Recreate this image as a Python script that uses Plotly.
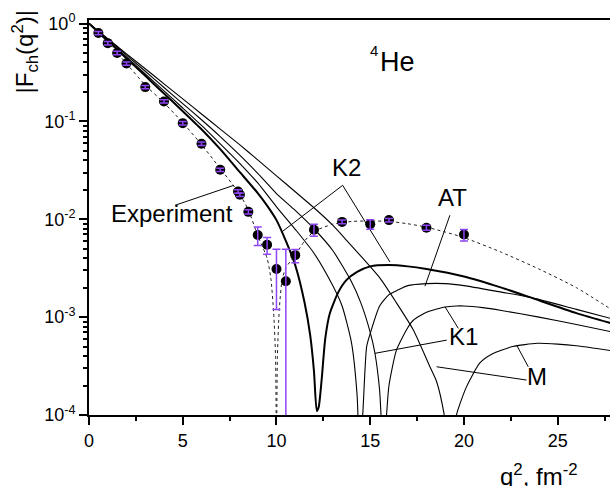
import plotly.graph_objects as go

# ---------------- data ----------------
exp_x = [0.5, 1, 1.5, 2, 3, 4, 5, 6, 7, 7.95, 8.05, 8.5, 9, 9.5, 10, 10.5, 11, 12, 13.5, 15, 16, 18, 20]
exp_y = [0.80, 0.63, 0.50, 0.39, 0.224, 0.16, 0.096, 0.059, 0.032, 0.0192, 0.0178, 0.0119,
         0.0069, 0.0055, 0.0031, 0.00233, 0.0043, 0.0078, 0.0094, 0.0089, 0.0098, 0.0082, 0.0070]
err_plus = [0.03, 0.025, 0.02, 0.015, 0.009, 0.006, 0.004, 0.0024, 0.0013, 0.0008, 0.0007, 0.0006,
            0.00144, 0.0010, 0.00184, 0.0026, 0.0006, 0.0011, 0.0004, 0.0010, 0.0004, 0.0005, 0.00085]
err_minus = [0.03, 0.025, 0.02, 0.015, 0.009, 0.006, 0.004, 0.0024, 0.0013, 0.0008, 0.0007, 0.0006,
             0.0015, 0.0011, 0.0019, 0.0023299, 0.0007, 0.0011, 0.0004, 0.0010, 0.0004, 0.0005, 0.0010]

fit_x = [0, 0.5, 1, 1.5, 2, 3, 4, 5, 6, 7, 8, 8.5, 9, 9.5, 9.7, 9.85, 9.95, 10.0, 10.05, 10.15,
         10.3, 10.5, 11, 11.5, 12, 13, 14, 15, 16, 17, 18, 19, 20, 22, 24, 26, 28]
fit_y = [1.0, 0.80, 0.635, 0.50, 0.39, 0.235, 0.155, 0.097, 0.058, 0.033, 0.0185, 0.0125, 0.0068,
         0.0040, 0.0025, 0.0011, 0.0004, 0.00005, 0.0004, 0.0012, 0.0024, 0.0032, 0.0043, 0.006,
         0.0075, 0.0089, 0.0095, 0.0096, 0.0095, 0.0090, 0.0083, 0.0074, 0.0065, 0.0046, 0.0031,
         0.0020, 0.00115]

k2_x = [0, 1, 2, 3, 4, 5, 6, 7, 8, 9, 9.5, 10, 10.5, 11, 11.5, 11.8, 12.0, 12.15, 12.25, 12.41,
        12.6, 12.85, 13.3, 13.74, 14.3, 15, 16, 17, 18, 20, 22, 23.5, 26, 28]
k2_y = [1, 0.665, 0.44, 0.292, 0.193, 0.127, 0.083, 0.052, 0.031, 0.0185, 0.0138, 0.0098, 0.006,
        0.0034, 0.0014, 0.00065, 0.00028, 0.00011, 0.00012, 0.00023, 0.0006, 0.0011, 0.0018, 0.0024,
        0.0029, 0.0033, 0.0034, 0.0033, 0.0031, 0.0026, 0.0020, 0.0016, 0.0011, 0.00085]

at_x = [0, 1, 2, 3, 4, 5, 6, 7, 8, 9, 10, 11, 12, 13, 13.5, 14, 14.3, 14.43, 14.6, 14.81, 15,
        15.5, 16, 16.5, 17, 18, 19, 20, 22, 23.5, 26, 28]
at_y = [1, 0.675, 0.455, 0.305, 0.205, 0.137, 0.091, 0.059, 0.038, 0.0235, 0.0134, 0.0079, 0.0045,
        0.0021, 0.0013, 0.00055, 0.00016, 0.00004, 0.0001, 0.0005, 0.00068, 0.0013, 0.0017, 0.0019,
        0.0021, 0.0022, 0.0022, 0.0021, 0.0018, 0.0016, 0.0012, 0.00095]

k1_x = [0, 1, 2, 3, 4, 5, 6, 7, 8, 9, 10, 11, 12, 13, 14, 14.5, 15, 15.25, 15.5, 15.7, 15.87,
        16.0, 16.4, 17, 17.3, 18, 19, 19.6, 20, 21, 22, 24, 26, 28]
k1_y = [1, 0.69, 0.475, 0.325, 0.222, 0.152, 0.104, 0.070, 0.046, 0.0295, 0.0183, 0.0123, 0.0080,
        0.0048, 0.0023, 0.0014, 0.0007, 0.00043, 0.00018, 0.00004, 0.0001, 0.0002, 0.00046, 0.00078,
        0.00093, 0.00112, 0.00127, 0.0013, 0.0013, 0.00125, 0.00117, 0.0010, 0.00084, 0.0007]

m_x = [0, 1, 2, 3, 4, 5, 6, 7, 8, 9, 10, 11, 12, 13, 13.74, 14.5, 15.52, 16.4, 17.3, 18.19, 18.54,
       18.95, 19.3, 19.6, 20.14, 20.85, 21.5, 22.6, 23.9, 25, 26, 27, 28]
m_y = [1, 0.70, 0.49, 0.345, 0.242, 0.170, 0.119, 0.0835, 0.0585, 0.0405, 0.0278, 0.0191, 0.0131,
       0.0087, 0.0061, 0.0042, 0.0025, 0.0014, 0.00074, 0.00031, 0.00022, 0.0001, 0.00003, 0.0001,
       0.000195, 0.00034, 0.00042, 0.0005, 0.00054, 0.00053, 0.00051, 0.00048, 0.00045]

x_ticks = [0, 5, 10, 15, 20, 25]
x_minor = [2.5, 7.5, 12.5, 17.5, 22.5, 27.5]
y_ticks = [1e-4, 1e-3, 1e-2, 1e-1, 1]
y_ticktext = ["10<sup>-4</sup>", "10<sup>-3</sup>", "10<sup>-2</sup>", "10<sup>-1</sup>", "10<sup>0</sup>"]
y_minor = [m * 10 ** e for e in (-4, -3, -2, -1) for m in range(2, 10)]

FONT = "Liberation Sans, Arial, sans-serif"
PURPLE = "#8f45f5"

fig = go.Figure()

# model curves
for xs, ys, w in [(m_x, m_y, 1.1), (k1_x, k1_y, 1.1), (at_x, at_y, 1.1), (k2_x, k2_y, 2.0)]:
    fig.add_trace(go.Scatter(x=xs, y=ys, mode="lines",
                             line=dict(color="black", width=w, shape="spline", smoothing=0.6),
                             hoverinfo="skip", showlegend=False))

# fit (dotted)
fig.add_trace(go.Scatter(x=fit_x, y=fit_y, mode="lines",
                         line=dict(color="#222222", width=1, dash="dot", shape="spline", smoothing=0.6),
                         hoverinfo="skip", showlegend=False))

# leader lines (label pointers): (x0, log y0, x1, log y1)
leaders = [
    (4.59, -1.857, 7.73, -1.653),
    (13.53, -1.653, 10.28, -2.130),
    (13.53, -1.653, 16.05, -2.436),
    (19.25, -1.959, 17.92, -2.684),
    (19.70, -3.115, 18.99, -2.895),
    (19.08, -3.235, 15.25, -3.370),
    (23.43, -3.507, 22.81, -3.286),
    (23.34, -3.643, 18.54, -3.507),
]
for x0, l0, x1, l1 in leaders:
    fig.add_trace(go.Scatter(x=[x0, x1], y=[10 ** l0, 10 ** l1], mode="lines",
                             line=dict(color="black", width=1), hoverinfo="skip", showlegend=False))

# experiment points
fig.add_trace(go.Scatter(x=exp_x, y=exp_y, mode="markers",
                         marker=dict(color="black", size=10, line=dict(width=0)),
                         showlegend=False))
# error bars drawn on top
fig.add_trace(go.Scatter(x=exp_x, y=exp_y, mode="markers", marker=dict(opacity=0, size=1),
                         error_y=dict(type="data", symmetric=False, array=err_plus, arrayminus=err_minus,
                                      color=PURPLE, thickness=1.5, width=4),
                         showlegend=False, hoverinfo="skip"))

labels = [
    ("Experiment", 4.45, -1.942, 24),
    ("K2", 13.71, -1.474, 24),
    ("AT", 19.41, -1.781, 24),
    ("K1", 19.95, -3.194, 24),
    ("M", 23.92, -3.609, 24),
    ("He", 16.48, -0.395, 27),
]
ann = []
for t, x, ly, s in labels:
    ann.append(dict(text=t, x=x, y=ly, xref="x", yref="y", showarrow=False,
                    xanchor="center", yanchor="middle", font=dict(family=FONT, size=s, color="black")))
ann.append(dict(text="4", x=15.22, y=-0.276, xref="x", yref="y", showarrow=False,
                xanchor="center", yanchor="middle", font=dict(family=FONT, size=15, color="black")))
ann.append(dict(text="|F<sub>ch</sub>(q<sup>2</sup>)|", x=-0.123, y=0.92, xref="paper", yref="paper",
                textangle=-90, showarrow=False, xanchor="center", yanchor="middle",
                font=dict(family=FONT, size=24, color="black")))
ann.append(dict(text="q<sup>2</sup>, fm<sup>-2</sup>", x=0.864, y=-0.152, xref="paper", yref="paper",
                showarrow=False, xanchor="center", yanchor="middle",
                font=dict(family=FONT, size=24, color="black")))

fig.update_layout(
    width=610, height=486,
    margin=dict(l=89, r=0, t=20, b=71),
    paper_bgcolor="white", plot_bgcolor="white",
    font=dict(family=FONT, size=18, color="black"),
    annotations=ann,
    showlegend=False,
)
fig.update_xaxes(range=[0, 27.79], showline=True, linewidth=2, linecolor="black", mirror=True,
                 showgrid=False, zeroline=False, ticks="outside", ticklen=8, tickwidth=1.5,
                 tickcolor="black", tickvals=x_ticks, tickfont=dict(family=FONT, size=18),
                 minor=dict(tickvals=x_minor, ticks="outside", ticklen=4, tickwidth=1.5, tickcolor="black"))
fig.update_yaxes(type="log", range=[-4, 0.036], showline=True, linewidth=2, linecolor="black",
                 showgrid=False, zeroline=False, ticks="outside", ticklen=8, tickwidth=1.5,
                 tickcolor="black", tickvals=y_ticks, ticktext=y_ticktext, tickfont=dict(family=FONT, size=18),
                 minor=dict(tickvals=y_minor, ticks="outside", ticklen=4, tickwidth=1.5, tickcolor="black"))

fig.write_html("out.html", config={"displayModeBar": False},
               post_script="document.body.style.margin='0';document.body.style.overflow='hidden';")
